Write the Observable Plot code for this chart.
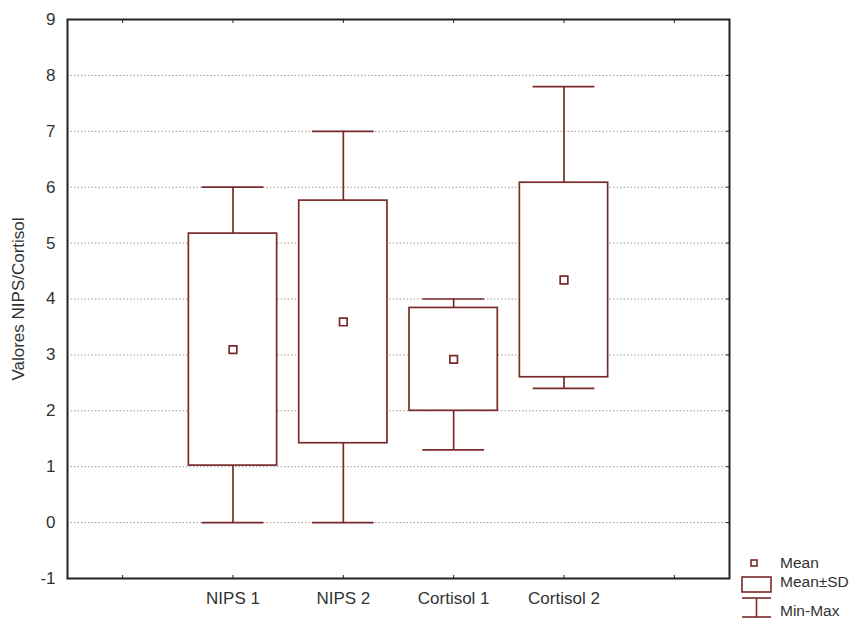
<!DOCTYPE html>
<html>
<head>
<meta charset="utf-8">
<script src="https://cdn.jsdelivr.net/npm/d3@7"></script>
<script src="https://cdn.jsdelivr.net/npm/@observablehq/plot@0.6"></script>
<style>
  body { margin: 0; background: #fff; }
  #wrap { position: relative; width: 862px; height: 619px; }
  #legend { position: absolute; left: 738px; top: 553px; }
</style>
</head>
<body>
<div id="wrap"></div>
<script>
const categories = ["NIPS 1", "NIPS 2", "Cortisol 1", "Cortisol 2"];
const means = [3.095, 3.59, 2.92, 4.34];
const sds = [2.075, 2.17, 0.92, 1.74];
const mins = [0, 0, 1.3, 2.4];
const maxs = [6, 7, 4, 7.8];
const yTicks = [-1, 0, 1, 2, 3, 4, 5, 6, 7, 8, 9];
const gridTicks = [0, 1, 2, 3, 4, 5, 6, 7, 8];
const xTicks = [0, 1, 2, 3, 4, 5];
const yLabel = "Valores NIPS/Cortisol";
const legendItems = ["Mean", "Mean±SD", "Min-Max"];

const C = "#7b2a2a";
const boxHalf = 0.4, capHalf = 0.28;

const data = categories.map((c, i) => ({
  cat: c, pos: i + 1, mean: means[i], lo: means[i] - sds[i], hi: means[i] + sds[i],
  min: mins[i], max: maxs[i]
}));

const chart = Plot.plot({
  width: 862, height: 619,
  marginLeft: 67, marginRight: 133, marginTop: 19, marginBottom: 41,
  x: {domain: [-0.5, 5.5]},
  y: {domain: [-1, 9]},
  style: {fontFamily: "'Liberation Sans', Arial, sans-serif", fontSize: "17px", color: "#333", background: "white"},
  marks: [
    Plot.ruleY(gridTicks, {stroke: "#9a9a9a", strokeDasharray: "1.5,2", strokeWidth: 1}),
    Plot.ruleX(data, {x: "pos", y1: "min", y2: "max", stroke: C, strokeWidth: 1.7}),
    Plot.ruleY(data, {y: "min", x1: d => d.pos - capHalf, x2: d => d.pos + capHalf, stroke: C, strokeWidth: 1.7}),
    Plot.ruleY(data, {y: "max", x1: d => d.pos - capHalf, x2: d => d.pos + capHalf, stroke: C, strokeWidth: 1.7}),
    Plot.rect(data, {x1: d => d.pos - boxHalf, x2: d => d.pos + boxHalf, y1: "lo", y2: "hi", fill: "white", stroke: C, strokeWidth: 1.7}),
    Plot.dot(data, {x: "pos", y: "mean", symbol: "square", r: 4.3, fill: "white", stroke: C, strokeWidth: 1.7}),
    Plot.axisY({ticks: yTicks, tickSize: 0, tickPadding: 12, label: null, fill: "#333", tickFormat: d => String(d)}),
    Plot.axisY({anchor: "right", ticks: yTicks, tickSize: -4, tickFormat: () => "", label: null, stroke: "#222"}),
    Plot.axisX({ticks: xTicks, tickSize: -3, tickPadding: 16, label: null, tickFormat: i => categories[i - 1] ?? "", fill: "#333", stroke: "#222", letterSpacing: "0.5px"}),
    Plot.axisX({anchor: "top", ticks: xTicks, tickSize: -3, tickFormat: () => "", label: null, stroke: "#222"}),
    Plot.text([yLabel], {text: d => d, frameAnchor: "left", textAnchor: "middle", rotate: -90, dx: -49, fill: "#333", fontSize: 17, letterSpacing: "0.9px"}),
    Plot.frame({stroke: "#222", strokeWidth: 2})
  ]
});
document.getElementById("wrap").appendChild(chart);

// legend
const lg = d3.select("#wrap").append("svg").attr("id", "legend")
  .attr("width", 124).attr("height", 66)
  .style("font-family", "'Liberation Sans', Arial, sans-serif").style("font-size", "15.5px");
lg.append("rect").attr("x", 13).attr("y", 7).attr("width", 6).attr("height", 6)
  .attr("fill", "white").attr("stroke", C).attr("stroke-width", 1.6);
lg.append("rect").attr("x", 4).attr("y", 24).attr("width", 29).attr("height", 15)
  .attr("fill", "white").attr("stroke", C).attr("stroke-width", 1.6);
lg.append("line").attr("x1", 4).attr("x2", 33).attr("y1", 45).attr("y2", 45).attr("stroke", C).attr("stroke-width", 1.6);
lg.append("line").attr("x1", 18.5).attr("x2", 18.5).attr("y1", 45).attr("y2", 64).attr("stroke", C).attr("stroke-width", 1.6);
lg.append("line").attr("x1", 4).attr("x2", 33).attr("y1", 64).attr("y2", 64).attr("stroke", C).attr("stroke-width", 1.6);
lg.selectAll("text.lab").data(legendItems).join("text").attr("class", "lab")
  .attr("x", 42).attr("y", (d, i) => [10, 29, 58][i]).attr("dy", "0.35em")
  .attr("fill", "#333").text(d => d);
</script>
</body>
</html>
